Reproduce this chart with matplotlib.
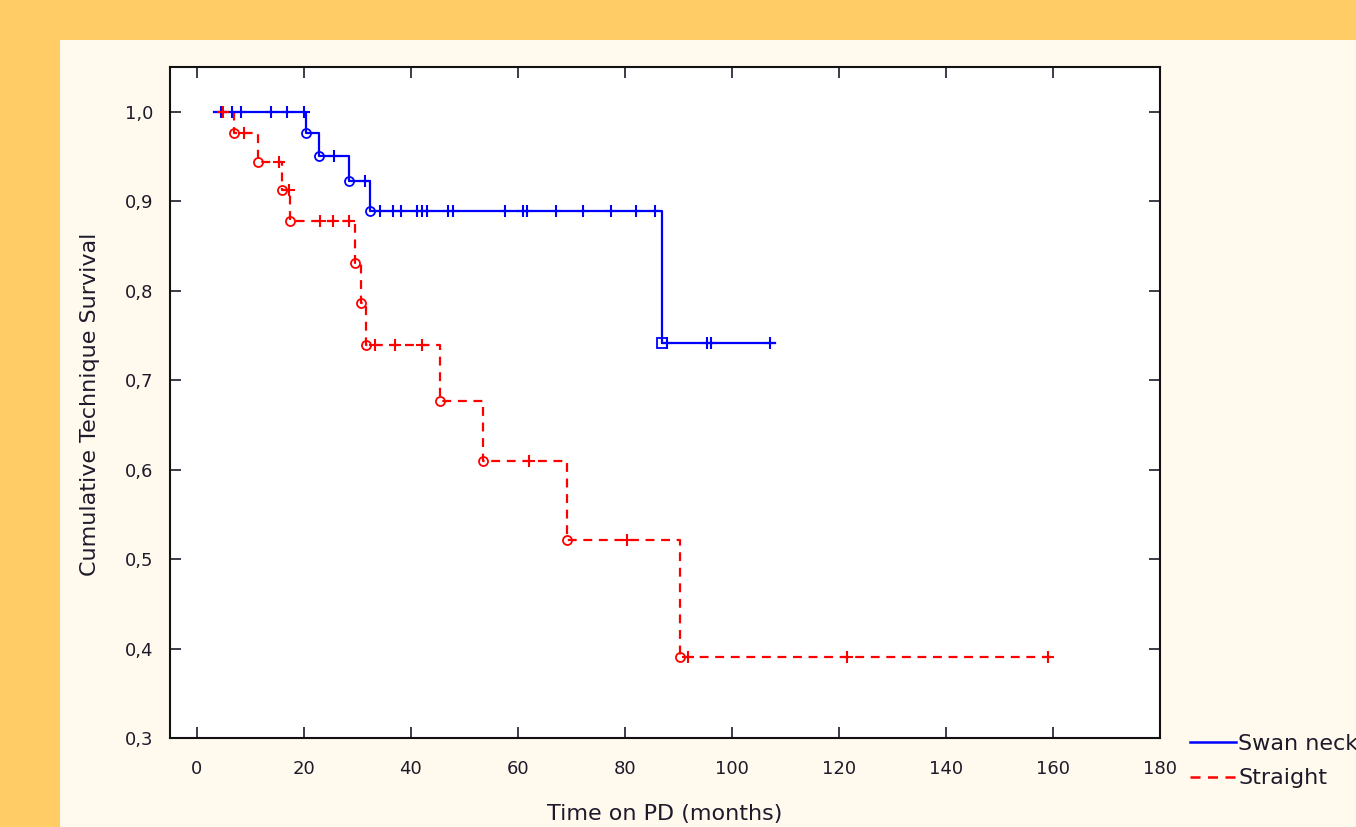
import matplotlib
matplotlib.use("Agg")
import matplotlib.pyplot as plt
import numpy as np
from matplotlib.patches import Rectangle
from matplotlib.lines import Line2D

# ---- data ----
swan_start = 3.2
swan_end = 108.0
swan_event_t = [20.5, 22.8, 28.4, 32.3, 86.9]
swan_event_s = [0.976, 0.950, 0.923, 0.889, 0.742]
swan_censor_t = [4.5, 6.5, 8.2, 13.8, 16.8, 20.0, 25.6, 31.5,
                 34.3, 36.6, 38.1, 41.2, 42.0, 43.1, 47.0, 47.8, 57.6, 61.0,
                 61.8, 67.2, 72.2, 77.4, 82.1, 85.6, 87.9, 95.3, 96.1, 107.1]

str_start = 3.9
str_end = 160.3
str_event_t = [6.9, 11.4, 15.9, 17.5, 29.5, 30.6, 31.7, 45.5, 53.4, 69.2, 90.3]
str_event_s = [0.976, 0.944, 0.913, 0.878, 0.831, 0.786, 0.739, 0.677, 0.610, 0.521, 0.391]
str_censor_t = [4.9, 8.8, 15.3, 17.2, 23.1, 25.4, 28.4, 33.4, 37.1, 42.0,
                62.1, 80.4, 91.8, 121.5, 159.1]

x_ticks = [0, 20, 40, 60, 80, 100, 120, 140, 160, 180]
y_ticks = [0.3, 0.4, 0.5, 0.6, 0.7, 0.8, 0.9, 1.0]
y_tick_labels = ["0,3", "0,4", "0,5", "0,6", "0,7", "0,8", "0,9", "1,0"]
series_names = ["Swan neck", "Straight"]

FONT = "DejaVu Sans"
TXT = "#1e1a2a"

W, H = 1356, 827
fig = plt.figure(figsize=(W / 100, H / 100), dpi=100)
fig.patch.set_facecolor("#FFF9EE")
orange = "#FFCC66"
fig.patches.append(Rectangle((0, 1 - 40 / H), 1, 40 / H, transform=fig.transFigure,
                             facecolor=orange, edgecolor="none", zorder=0))
fig.patches.append(Rectangle((0, 0), 60 / W, 1, transform=fig.transFigure,
                             facecolor=orange, edgecolor="none", zorder=0))

ax = fig.add_axes([170 / W, 1 - 738 / H, (1160 - 170) / W, (738 - 67) / H])
ax.set_facecolor("white")


def step_arrays(start, end, et, es):
    t = [start]
    s = [1.0]
    cur = 1.0
    for ti, si in zip(et, es):
        t += [ti, ti]
        s += [cur, si]
        cur = si
    t.append(end)
    s.append(cur)
    return np.array(t), np.array(s)


def surv_at(times, et, es):
    out = []
    for c in times:
        v = 1.0
        for ti, si in zip(et, es):
            if ti <= c:
                v = si
        out.append(v)
    return out


series = [
    (swan_start, swan_end, swan_event_t, swan_event_s, swan_censor_t, "#0000FF", "-"),
    (str_start, str_end, str_event_t, str_event_s, str_censor_t, "#FF0000", (0, (4, 3))),
]

handles = []
for (st, en, et, es, ct, col, ls), name in zip(series, series_names):
    t, s = step_arrays(st, en, et, es)
    ax.plot(t, s, color=col, lw=1.6, ls=ls, zorder=3)
    mk = ["o"] * len(et)
    if col == "#0000FF":
        mk[-1] = "s"
    for ti, si, m in zip(et, es, mk):
        ax.plot([ti], [si], marker=m, ms=6.5, mfc="none", mec=col, mew=1.3, ls="none", zorder=4)
    ax.plot(ct, surv_at(ct, et, es), marker="+", ms=9, mec=col, mew=1.5, ls="none", zorder=4)
    handles.append(Line2D([0], [0], color=col, lw=1.8, ls=ls))

ax.set_xlim(-5, 180)
ax.set_ylim(0.3, 1.05)
ax.set_xticks(x_ticks)
ax.set_yticks(y_ticks)
ax.set_yticklabels(y_tick_labels)
ax.tick_params(direction="in", length=8, width=1.2, top=True, right=True,
               labelsize=13, colors=TXT)
ax.tick_params(axis="x", pad=16)
ax.tick_params(axis="y", pad=12)
for sp in ax.spines.values():
    sp.set_linewidth(1.5)
    sp.set_color("#111111")

fig.text(665 / W, 1 - 814 / H, "Time on PD (months)", ha="center", va="center",
         fontsize=16, color=TXT, family=FONT)
fig.text(90 / W, 1 - 404 / H, "Cumulative Technique Survival", ha="center", va="center",
         rotation=90, fontsize=16, color=TXT, family=FONT)

for lab in ax.get_xticklabels() + ax.get_yticklabels():
    lab.set_family(FONT)

leg = fig.legend(handles, series_names, loc="upper left",
                 bbox_to_anchor=(1190 / W, 1 - 734 / H), frameon=False,
                 borderpad=0, borderaxespad=0,
                 handlelength=2.05, handletextpad=0.12, labelspacing=0.65,
                 prop={"family": FONT, "size": 16})
for txt in leg.get_texts():
    txt.set_color(TXT)

fig.savefig("out.png", dpi=100, facecolor=fig.get_facecolor())
